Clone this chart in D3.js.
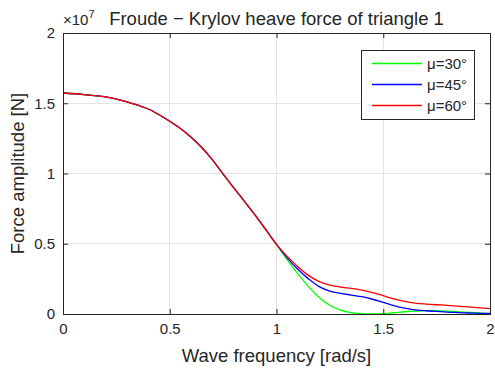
<!DOCTYPE html>
<html>
<head>
<meta charset="utf-8">
<script src="https://cdn.jsdelivr.net/npm/d3@7"></script>
<style>
  html, body { margin: 0; padding: 0; background: #fff; }
  text { font-family: "Liberation Sans", Arial, Helvetica, sans-serif; fill: #262626; }
</style>
</head>
<body>
<svg id="chart" width="495" height="371"></svg>
<script>
// Wave frequency samples [rad/s]
const omega = [0, 0.1, 0.2, 0.25, 0.3, 0.35, 0.4, 0.45, 0.5, 0.55, 0.6, 0.65, 0.7, 0.75, 0.8, 0.85, 0.9, 0.95, 1.0,
  1.05, 1.1, 1.15, 1.2, 1.25, 1.3, 1.35, 1.4, 1.45, 1.5, 1.55, 1.6, 1.65, 1.7, 1.75, 1.8, 1.85, 1.9, 1.95, 2.0];

// Shared low-frequency part of the force amplitude (x 1e7 N)
const common = [1.573, 1.562, 1.545, 1.529, 1.51, 1.486, 1.459, 1.418, 1.372, 1.32, 1.258, 1.185, 1.097, 0.996, 0.898, 0.802, 0.703, 0.60, 0.495];

// High-frequency tails for each angle (x 1e7 N)
const tail30 = [0.385, 0.285, 0.195, 0.118, 0.062, 0.028, 0.01, 0.003, 0.001, 0.003, 0.009, 0.016, 0.021, 0.024, 0.023, 0.02, 0.016, 0.012, 0.007, 0.002];
const tail45 = [0.40, 0.318, 0.25, 0.195, 0.163, 0.147, 0.135, 0.123, 0.105, 0.083, 0.06, 0.042, 0.03, 0.023, 0.018, 0.013, 0.01, 0.007, 0.005, 0.004];
const tail60 = [0.41, 0.337, 0.275, 0.23, 0.205, 0.192, 0.182, 0.17, 0.152, 0.13, 0.108, 0.09, 0.078, 0.071, 0.066, 0.062, 0.056, 0.05, 0.044, 0.038];

const seriesNames = ["μ=30°", "μ=45°", "μ=60°"];
const seriesColors = ["#00ff00", "#0000ff", "#ff0000"];
const seriesValues = [common.concat(tail30), common.concat(tail45), common.concat(tail60)];

const xTicks = [0, 0.5, 1, 1.5, 2];
const yTicks = [0, 0.5, 1, 1.5, 2];

const svg = d3.select("#chart");
const m = { left: 63, right: 490, top: 33, bottom: 314 };

const x = d3.scaleLinear().domain([0, 2]).range([m.left, m.right]);
const y = d3.scaleLinear().domain([0, 2]).range([m.bottom, m.top]);

// grid
const grid = svg.append("g");
grid.selectAll(".gx").data(xTicks.slice(1, -1)).enter().append("line")
  .attr("x1", d => x(d)).attr("x2", d => x(d))
  .attr("y1", m.top).attr("y2", m.bottom)
  .attr("stroke", "#e3e3e3").attr("stroke-width", 1).attr("shape-rendering", "crispEdges");
grid.selectAll(".gy").data(yTicks.slice(1, -1)).enter().append("line")
  .attr("y1", d => y(d)).attr("y2", d => y(d))
  .attr("x1", m.left).attr("x2", m.right)
  .attr("stroke", "#e3e3e3").attr("stroke-width", 1).attr("shape-rendering", "crispEdges");

// curves
const line = d3.line().x((d, i) => x(omega[i])).y(d => y(d)).curve(d3.curveCatmullRom.alpha(0.5));
const plot = svg.append("g");
seriesValues.forEach((vals, k) => {
  plot.append("path").datum(vals)
    .attr("d", line)
    .attr("fill", "none")
    .attr("stroke", seriesColors[k])
    .attr("stroke-width", 1.3);
});

// axes (ticks pointing inward, mirrored on top and right)
const tickLen = 5;
const axStyle = g => {
  g.select(".domain").remove();
  g.selectAll(".tick line").attr("stroke", "#262626");
  g.selectAll(".tick text").attr("font-size", 15).attr("fill", "#262626")
    .style("font-family", '"Liberation Sans", Arial, sans-serif');
};
svg.append("g").attr("transform", `translate(0,${m.bottom})`)
  .call(d3.axisBottom(x).tickValues(xTicks).tickFormat(d3.format("")).tickSizeInner(-tickLen).tickPadding(9))
  .call(axStyle);
svg.append("g").attr("transform", `translate(0,${m.top})`)
  .call(d3.axisTop(x).tickValues(xTicks).tickFormat("").tickSizeInner(-tickLen))
  .call(axStyle);
svg.append("g").attr("transform", `translate(${m.left},0)`)
  .call(d3.axisLeft(y).tickValues(yTicks).tickFormat(d3.format("")).tickSizeInner(-tickLen).tickPadding(8))
  .call(axStyle);
svg.append("g").attr("transform", `translate(${m.right},0)`)
  .call(d3.axisRight(y).tickValues(yTicks).tickFormat("").tickSizeInner(-tickLen))
  .call(axStyle);

// box
svg.append("rect")
  .attr("x", m.left + 0.5).attr("y", m.top + 0.5)
  .attr("width", m.right - m.left).attr("height", m.bottom - m.top)
  .attr("fill", "none").attr("stroke", "#262626").attr("stroke-width", 1)
  .attr("shape-rendering", "crispEdges");

// exponent label
const ex = svg.append("text").attr("x", m.left).attr("y", 25).attr("font-size", 15);
ex.append("tspan").text("×10");
ex.append("tspan").attr("font-size", 11).attr("dy", -7).text("7");

// title
svg.append("text").attr("x", (m.left + m.right) / 2).attr("y", 25)
  .attr("text-anchor", "middle").attr("font-size", 18.5).attr("fill", "#000")
  .text("Froude − Krylov heave force of triangle 1");

// axis titles
svg.append("text").attr("x", (m.left + m.right) / 2).attr("y", 362)
  .attr("text-anchor", "middle").attr("font-size", 18.5)
  .text("Wave frequency [rad/s]");
svg.append("text")
  .attr("transform", `translate(24,${(m.top + m.bottom) / 2}) rotate(-90)`)
  .attr("text-anchor", "middle").attr("font-size", 18.5)
  .text("Force amplitude [N]");

// legend
const lg = svg.append("g");
lg.append("rect").attr("x", 361.5).attr("y", 50.5).attr("width", 113).attr("height", 69)
  .attr("fill", "#fff").attr("stroke", "#262626").attr("stroke-width", 1).attr("shape-rendering", "crispEdges");
seriesNames.forEach((name, k) => {
  const yy = 63.5 + k * 21;
  lg.append("line").attr("x1", 372).attr("x2", 422).attr("y1", yy).attr("y2", yy)
    .attr("stroke", seriesColors[k]).attr("stroke-width", 1.3);
  lg.append("text").attr("x", 427).attr("y", yy + 5.5).attr("font-size", 15).attr("fill", "#000").text(name);
});
</script>
</body>
</html>
